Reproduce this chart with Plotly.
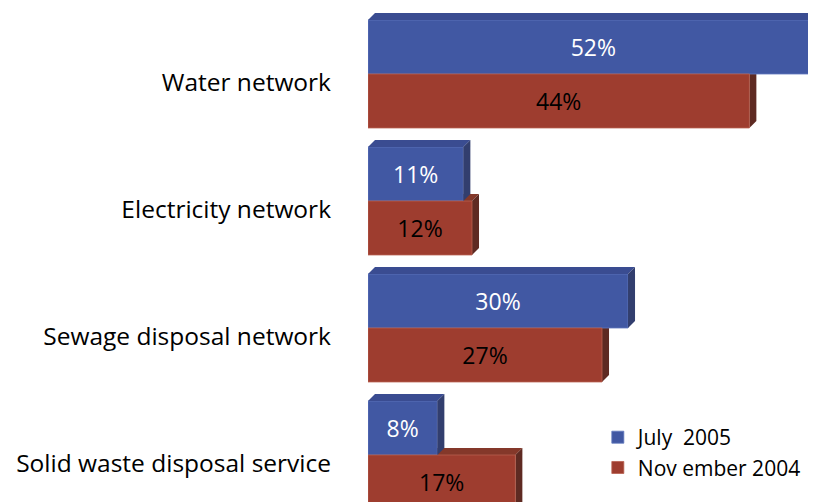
import plotly.graph_objects as go

categories = ["Water network", "Electricity network", "Sewage disposal network", "Solid waste disposal service"]
july_2005 = [52, 11, 30, 8]
nov_2004 = [44, 12, 27, 17]
series_names = ["July  2005", "Nov ember 2004"]

FONT = "Open Sans"
BLUE, BLUE_TOP, BLUE_SIDE = "#4158A3", "#3A4C91", "#323E6E"
RED, RED_TOP, RED_SIDE = "#9E3D2F", "#84382A", "#5E2A22"

pos = list(range(len(categories)))
GAP = 0.15
BW = (1 - GAP) / 2          # width of one bar in category units
DX = 0.81                   # depth offset in % units
DY = 0.055                  # depth offset in category units
LABEL_SHIFT = 0.065         # category labels sit slightly below group centre

fig = go.Figure()
fig.add_trace(go.Bar(
    y=pos, x=july_2005, orientation="h", name=series_names[0], legendgroup="a",
    marker=dict(color=BLUE, line=dict(color="#6077BE", width=0.8)),
    texttemplate="%{x}%", textposition="inside", insidetextanchor="middle",
    textfont=dict(color="white", size=23, family=FONT), constraintext="none",
))
fig.add_trace(go.Bar(
    y=pos, x=nov_2004, orientation="h", name=series_names[1], legendgroup="b",
    marker=dict(color=RED, line=dict(color="#B8604F", width=0.8)),
    texttemplate="%{x}%", textposition="inside", insidetextanchor="middle",
    textfont=dict(color="black", size=23, family=FONT), constraintext="none",
))

shapes = []
def faces(v, ytop, ybot, top_col, side_col, layer):
    top = f"M 0,{ytop} L {v},{ytop} L {v+DX},{ytop-DY} L {DX},{ytop-DY} Z"
    side = f"M {v},{ytop} L {v+DX},{ytop-DY} L {v+DX},{ybot-DY} L {v},{ybot} Z"
    return [
        dict(type="path", path=top, xref="x", yref="y", fillcolor=top_col, line=dict(width=0), layer=layer),
        dict(type="path", path=side, xref="x", yref="y", fillcolor=side_col, line=dict(width=0), layer=layer),
    ]

for i, (b, r) in enumerate(zip(july_2005, nov_2004)):
    shapes += faces(r, i, i + BW, RED_TOP, RED_SIDE, "below")
    shapes += faces(b, i - BW, i, BLUE_TOP, BLUE_SIDE, "above")

W, H = 808, 494            # page has an 8px body margin
LEFT = 360
PX_PER_PCT = 8.667
UNIT_PX = 127
FIRST_CENTER = 66

fig.update_layout(
    width=W, height=H,
    margin=dict(l=LEFT, r=0, t=0, b=0),
    paper_bgcolor="white", plot_bgcolor="white",
    barmode="group", bargap=GAP, bargroupgap=0,
    shapes=shapes,
    font=dict(family=FONT, size=22, color="black"),
    showlegend=True,
    legend=dict(x=0.513, y=0.172, xanchor="left", yanchor="top",
                font=dict(size=21, family=FONT), traceorder="normal",
                bgcolor="rgba(0,0,0,0)", itemwidth=30, tracegroupgap=6),
    xaxis=dict(range=[0, (W - LEFT) / PX_PER_PCT], visible=False, fixedrange=True),
    yaxis=dict(range=[(H - FIRST_CENTER) / UNIT_PX, -FIRST_CENTER / UNIT_PX],
               tickvals=[p + LABEL_SHIFT for p in pos], ticktext=categories,
               showgrid=False, zeroline=False,
               showline=False, ticks="", ticklabelstandoff=36,
               tickfont=dict(size=24.5, family=FONT, color="black")),
)

fig.write_html("out.html")
